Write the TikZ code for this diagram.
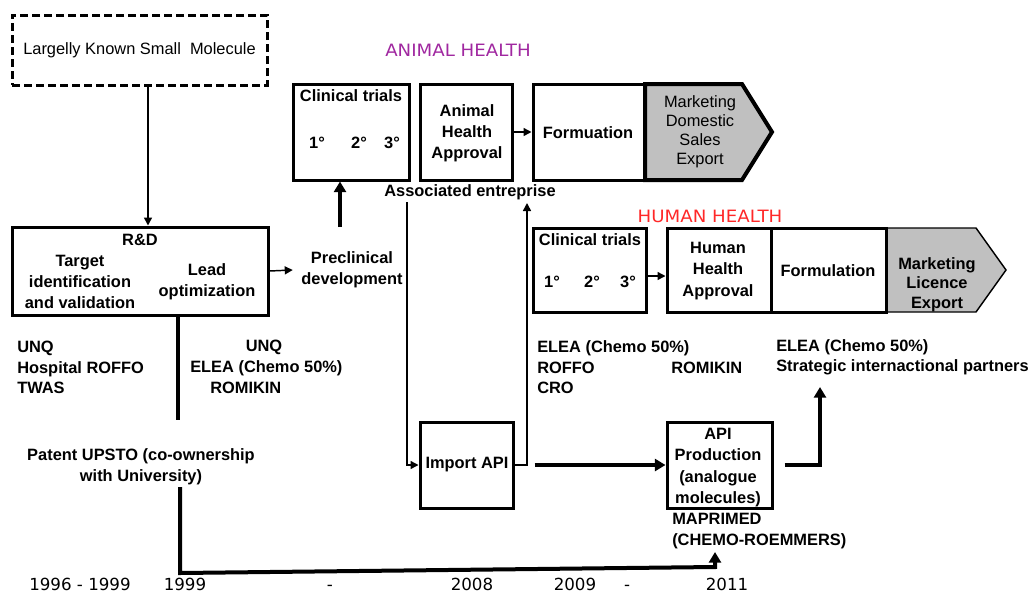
\documentclass[tikz,border=0pt]{standalone}
\usepackage{fontspec}
\usepackage{graphicx}
\setmainfont{Liberation Sans}
\newfontfamily\vfont{DejaVu Sans}
\usetikzlibrary{arrows.meta,fit,calc}
\definecolor{purp}{RGB}{160,40,160}
\definecolor{redh}{RGB}{255,40,40}
\definecolor{grayf}{RGB}{192,192,192}
\begin{document}
\begin{tikzpicture}[x=0.75pt,y=-0.75pt,
  boxs/.style={draw, line width=2.25pt, inner sep=0pt},
  thinarr/.style={line width=1.1pt, -{Triangle[length=6pt,width=6pt]}},
  thickarr/.style={line width=3pt, -{Triangle[length=8pt,width=9pt]}},
  thickln/.style={line width=3pt},
  bt/.style={font=\bfseries\fontsize{12.3}{15.5}\selectfont, inner sep=0pt, align=center},
  lt/.style={font=\bfseries\fontsize{12.3}{15.4}\selectfont, inner sep=0pt, align=left, anchor=west},
  yr/.style={font=\vfont\fontsize{12.5}{14}\selectfont, inner sep=0pt, anchor=base},
  hd/.style={font=\vfont\fontsize{12.75}{14}\selectfont, inner sep=0pt},
]
\useasboundingbox (0,0) rectangle (1035,593);

% dashed source box
\node[boxs, dash pattern=on 6pt off 3pt, fit={(12,15) (267,85)}] (lksm) {};
\node[font=\fontsize{12.3}{15}\selectfont, inner sep=0pt] (lksmt) at (139.5,50) {Largelly Known Small~ Molecule};

% R&D
\node[boxs, fit={(12,227) (268,315)}] (rd) {};
\node[bt] (rdt) at (140,240) {R\&D};
\node[bt] (tiv) at (80,282) {Target\\identification\\and validation};
\node[bt] (lo) at (207,282) {Lead\\optimization};
\node[bt, inner xsep=6.3pt] (pre) at (352,270) {Preclinical\\development};

% Animal health
\node[hd, text=purp] (ah) at (458,50) {\scalebox{1.07}[1]{ANIMAL HEALTH}};
\draw[line width=3pt, fill=grayf] (645,84) -- (742,84) -- (772,132) -- (742,180) -- (645,180) -- cycle;
\node[font=\fontsize{12.3}{14.3}\selectfont, align=center, inner sep=0pt] (mkd) at (700,131.5) {Marketing\\Domestic\\Sales\\Export};
\node[boxs, fit={(293,84) (409,180)}] (act) {};
\node[bt] (actt) at (351,96) {Clinical trials};
\node[bt] (a1) at (317,143) {1°};
\node[bt] (a2) at (359,143) {2°};
\node[bt] (a3) at (392,143) {3°};
\node[boxs, fit={(420,84) (512,180)}] (aha) {};
\node[bt, font=\bfseries\fontsize{12.3}{15.75}\selectfont] (ahat) at (467,133) {Animal\\Health\\Approval};
\node[boxs, fit={(533,84) (645,180)}] (afo) {};
\node[bt] (afot) at (588,133) {Formuation};
\node[bt] (assoc) at (470,192) {Associated entreprise};

% Human health
\node[hd, text=redh] (hh) at (710,216) {\scalebox{1.07}[1]{HUMAN HEALTH}};
\draw[line width=1.1pt, fill=grayf] (886,228) -- (976,228) -- (1006,270) -- (976,312) -- (886,312) -- cycle;
\node[bt, font=\bfseries\fontsize{12.3}{14.6}\selectfont] (mkh) at (937,284.5) {Marketing\\Licence\\Export};
\node[boxs, fit={(533,228) (646,312)}] (hct) {};
\node[bt] (hctt) at (590,240) {Clinical trials};
\node[bt] (h1) at (552,282) {1°};
\node[bt] (h2) at (592,282) {2°};
\node[bt] (h3) at (628,282) {3°};
\node[boxs, fit={(667,228) (771,312)}] (hha) {};
\node[bt, font=\bfseries\fontsize{12.3}{16}\selectfont] (hhat) at (718,271) {Human\\Health\\Approval};
\node[boxs, fit={(771,228) (886,312)}] (hfo) {};
\node[bt] (hfot) at (828,271) {Formulation};

% lists
\node[lt] (l1) at (17,367.5) {UNQ\\Hospital ROFFO\\TWAS};
\node[bt] (l2a) at (264,347) {UNQ};
\node[lt] (l2b) at (190,368) {ELEA (Chemo 50\%)};
\node[lt] (l2c) at (210,388) {ROMIKIN};
\node[lt] (l3) at (537,367.5) {ELEA (Chemo 50\%)\\ROFFO\\CRO};
\node[lt] (l3b) at (671,368) {ROMIKIN};
\node[lt] (l4) at (776,357.5) {ELEA (Chemo 50\%)\\Strategic internactional partners};

% lower row
\node[bt] (pat) at (141,466.5) {Patent UPSTO (co-ownership\\with University)};
\node[boxs, fit={(420,422) (513,508)}] (imp) {};
\node[bt] (impt) at (467,465) {Import API};
\node[boxs, fit={(667,422) (772,508)}] (apip) {};
\node[bt, font=\bfseries\fontsize{12.3}{16.2}\selectfont] (apipt) at (718,467.5) {API\\Production\\(analogue\\molecules)};
\node[lt] (mapr) at (672,531) {MAPRIMED\\(CHEMO-ROEMMERS)};

% years
\node[yr] (y1) at (80,590) {1996 - 1999};
\node[yr] (y2) at (185,590) {1999};
\node[yr] (y3) at (330,590) {-};
\node[yr] (y4) at (472,590) {2008};
\node[yr] (y5) at (575,590) {2009};
\node[yr] (y6) at (627,590) {-};
\node[yr] (y7) at (727,590) {2011};

% connectors
\coordinate (c0) at ($(lksm.south)+(8.5,0)$);
\draw[thinarr] (c0) -- (c0 |- rd.north);
\draw[thinarr] (rd.east) -- (pre.west);
\coordinate (c1) at (340,227);
\draw[thickarr] (c1) -- (c1 |- act.south);
\draw[thinarr] (aha.east) -- (afo.west);
\draw[thinarr] ([yshift=-4.5pt]hct.east) -- ([yshift=-4.5pt]hha.west);
\coordinate (c2) at (407,202);
\draw[thinarr] (c2) |- (imp.west);
\coordinate (c3) at (527,203);
\draw[thinarr] (imp.east) -| (c3);
\draw[thickarr] ([xshift=15pt]imp.east) -- (apip.west);
\coordinate (c4) at (820,387);
\draw[thickarr] ([xshift=8.25pt]apip.east) -| (c4);
\coordinate (p1) at (178,420);
\draw[thickln] (p1 |- rd.south) -- (p1);
\coordinate (p2) at (180,487);
\coordinate (p3) at (180,573);
\coordinate (p4) at (715,567);
\coordinate (p5) at (715,552);
\draw[thickarr] (p2) -- (p3) -- (p4) -- (p5);
\end{tikzpicture}
\end{document}
